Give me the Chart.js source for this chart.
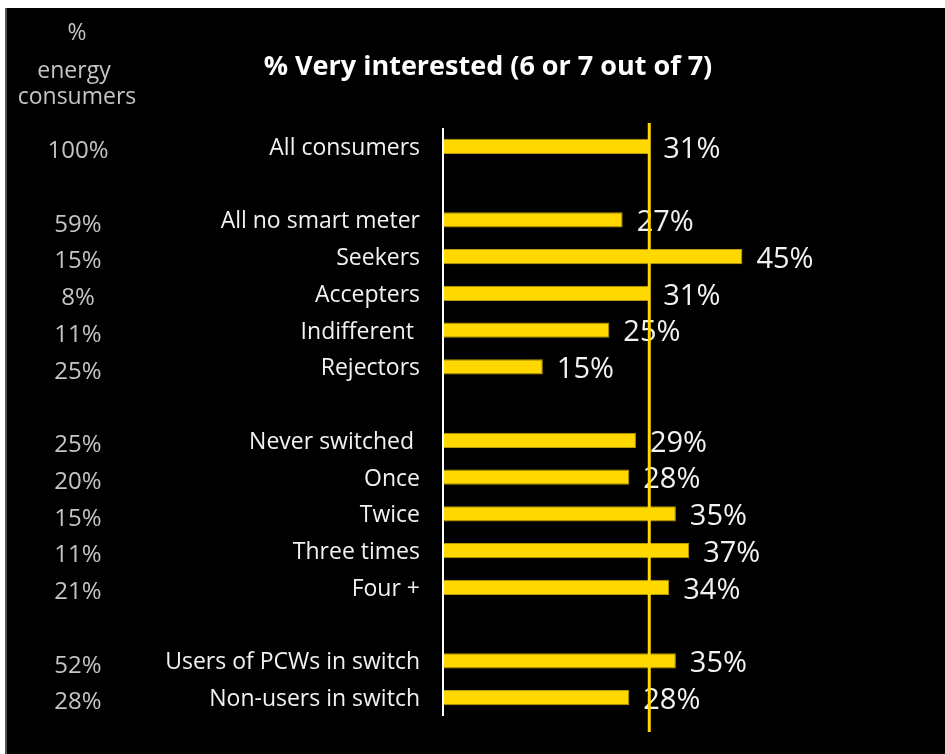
<!DOCTYPE html>
<html>
<head>
<meta charset="utf-8">
<script src="https://cdn.jsdelivr.net/npm/chart.js@4"></script>
<style>
  html, body { margin: 0; padding: 0; background: #fff; }
  #wrap { position: absolute; left: 0; top: 0; width: 945px; height: 754px; }
</style>
</head>
<body>
<div id="wrap"><canvas id="interestChart" width="945" height="754"></canvas></div>
<script>
// Segment rows; empty strings are spacer rows between groups
const segments = [
  "All consumers", "",
  "All no smart meter", "Seekers", "Accepters", "Indifferent ", "Rejectors", "",
  "Never switched ", "Once", "Twice", "Three times", "Four +", "",
  "Users of PCWs in switch", "Non-users in switch"
];
// % very interested (6 or 7 out of 7)
const veryInterested = [31, null, 27, 45, 31, 25, 15, null, 29, 28, 35, 37, 34, null, 35, 28];
// % of energy consumers in each segment
const consumerShare = ["100%", "", "59%", "15%", "8%", "11%", "25%", "", "25%", "20%", "15%", "11%", "21%", "", "52%", "28%"];

const chartTitle = "% Very interested (6 or 7 out of 7)";
const shareHeader = ["%", "energy", "consumers"];

const FONT = "'Open Sans', sans-serif";
const BAR_YELLOW = "#FFD800";

// Frame, side column, labels and the reference line drawn around the bars
const annotations = {
  id: "annotations",
  beforeDraw(chart) {
    const ctx = chart.ctx;
    ctx.save();
    ctx.fillStyle = "#ffffff";
    ctx.fillRect(0, 0, chart.width, chart.height);
    ctx.fillStyle = "#000000";
    ctx.fillRect(7, 8, chart.width - 7, chart.height - 8);
    ctx.fillStyle = "#555";
    ctx.fillRect(5, 8, 2, chart.height - 8);
    ctx.restore();
  },
  afterDatasetsDraw(chart) {
    const ctx = chart.ctx;
    const xs = chart.scales.x;
    const ys = chart.scales.y;
    const area = chart.chartArea;
    ctx.save();

    // title
    ctx.fillStyle = "#ffffff";
    ctx.font = "bold 27px " + FONT;
    ctx.textAlign = "center";
    ctx.textBaseline = "middle";
    ctx.fillText(chartTitle, 488, 67);

    // share column header
    ctx.fillStyle = "#c4c4c4";
    ctx.font = "23px " + FONT;
    ctx.fillText(shareHeader[0], 77, 33);
    ctx.fillText(shareHeader[1], 74, 71);
    ctx.fillText(shareHeader[2], 77, 97);

    segments.forEach((name, i) => {
      const y = ys.getPixelForValue(i);
      if (consumerShare[i]) {
        ctx.fillStyle = "#c4c4c4";
        ctx.font = "24px " + FONT;
        ctx.textAlign = "center";
        ctx.fillText(consumerShare[i], 78, y + 5);
      }
      if (name) {
        ctx.fillStyle = "#f2f2f2";
        ctx.font = "23px " + FONT;
        ctx.textAlign = "right";
        ctx.fillText(name, area.left - 23, y + 2);
      }
      const v = veryInterested[i];
      if (v !== null) {
        ctx.fillStyle = "#f2f2f2";
        ctx.font = "29px " + FONT;
        ctx.textAlign = "left";
        ctx.fillText(v + "%", xs.getPixelForValue(v) + 14, y + 3);
      }
    });

    // axis line at zero
    const x0 = xs.getPixelForValue(0);
    ctx.strokeStyle = "#ffffff";
    ctx.lineWidth = 2;
    ctx.beginPath();
    ctx.moveTo(x0, area.top);
    ctx.lineTo(x0, area.bottom);
    ctx.stroke();

    // reference line at the all-consumers level
    const xr = xs.getPixelForValue(veryInterested[0]);
    ctx.strokeStyle = BAR_YELLOW;
    ctx.lineWidth = 3;
    ctx.beginPath();
    ctx.moveTo(xr, area.top - 5);
    ctx.lineTo(xr, area.bottom + 16);
    ctx.stroke();

    ctx.restore();
  }
};

new Chart(document.getElementById("interestChart"), {
  type: "bar",
  data: {
    labels: segments,
    datasets: [{
      data: veryInterested,
      backgroundColor: BAR_YELLOW,
      borderColor: "#b89a00",
      borderWidth: 1,
      borderSkipped: false,
      categoryPercentage: 1,
      barPercentage: 0.42
    }]
  },
  options: {
    indexAxis: "y",
    responsive: false,
    animation: false,
    layout: { padding: { left: 443, right: 3, top: 128, bottom: 38 } },
    scales: {
      x: { display: false, min: 0, max: 75 },
      y: { display: false }
    },
    plugins: {
      legend: { display: false },
      tooltip: { enabled: false }
    }
  },
  plugins: [annotations]
});
</script>
</body>
</html>
